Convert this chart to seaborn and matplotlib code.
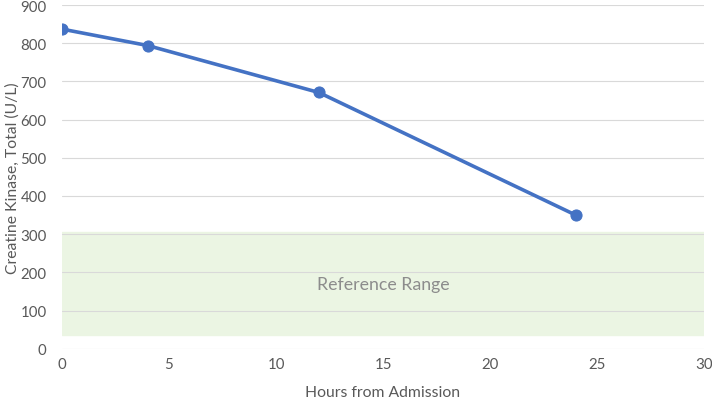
import matplotlib
matplotlib.use("Agg")
import matplotlib.pyplot as plt
import seaborn as sns
import pandas as pd

hours = [0, 4, 12, 24]
ck_total = [837, 794, 671, 350]
ref_low = 35
ref_high = 305
x_ticks = [0, 5, 10, 15, 20, 25, 30]
y_ticks = [0, 100, 200, 300, 400, 500, 600, 700, 800, 900]

sns.set_theme(style="white")
plt.rcParams['font.family'] = ['Lato', 'DejaVu Sans']

df = pd.DataFrame({'hours': hours, 'ck': ck_total})
grey = '#595959'

fig, ax = plt.subplots(figsize=(7.12, 4.02), dpi=100)
fig.subplots_adjust(left=0.087, right=0.989, top=0.985, bottom=0.13)

ax.axhspan(ref_low, ref_high, xmin=0, xmax=1, color='#EBF5E3', zorder=0)
for y in y_ticks:
    ax.axhline(y, color='#D9D9D9', lw=0.8, zorder=1)

sns.lineplot(data=df, x='hours', y='ck', ax=ax, color='#4472C4', lw=2.6,
             marker='o', markersize=8, markeredgecolor='#4472C4', zorder=3)

ax.text(15, (ref_low + ref_high) / 2, 'Reference Range', ha='center', va='center',
        fontsize=12.8, color='#8C8C8C')

ax.set_xlim(0, 30)
ax.set_ylim(0, 900)
ax.set_xticks(x_ticks)
ax.set_yticks(y_ticks)
ax.tick_params(axis='both', colors=grey, labelsize=10.8, length=0)
ax.tick_params(axis='x', pad=6)
ax.tick_params(axis='y', pad=11)
ax.set_xlabel('Hours from Admission', color=grey, fontsize=11.3, labelpad=10)
ax.set_ylabel('Creatine Kinase, Total (U/L)', color=grey, fontsize=11.3)
ax.yaxis.set_label_coords(-0.066, 0.5)
for s in ax.spines.values():
    s.set_visible(False)

fig.savefig('out.png', dpi=100)
